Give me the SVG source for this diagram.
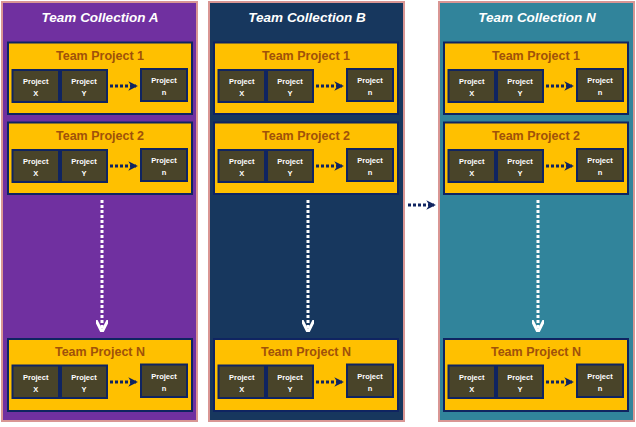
<svg xmlns="http://www.w3.org/2000/svg" width="636" height="427" viewBox="0 0 636 427">
<defs>
<style>
.coll{stroke:#D99694;stroke-width:2}
.tp{fill:#FFC000;stroke:#0F2461;stroke-width:2}
.pr{fill:#494429;stroke:#0F2461;stroke-width:2}
.ct{font-family:"Liberation Sans",Arial,sans-serif;font-weight:bold;font-style:italic;font-size:13.5px;fill:#FFFFFF;text-anchor:middle}
.tt{font-family:"Liberation Sans",Arial,sans-serif;font-weight:bold;font-size:12.5px;fill:#A0520A;text-anchor:middle}
.pt{font-family:"Liberation Sans",Arial,sans-serif;font-weight:bold;font-size:7.5px;fill:#FFFFFF;text-anchor:middle}
.hd{stroke:#0F2461;stroke-width:3;stroke-dasharray:3 2;fill:none}
.vd{stroke:#FFFFFF;stroke-width:3;stroke-dasharray:3 2;fill:none}
</style>
<marker id="ah" viewBox="0 0 10 10" refX="8" refY="5" markerWidth="3.2" markerHeight="3.2" orient="auto" markerUnits="strokeWidth">
<path d="M0,0 L10,5 L0,10 L3,5 z" fill="#0F2461"/>
</marker>
<marker id="aw" viewBox="0 0 10 10" refX="9" refY="5" markerWidth="4" markerHeight="4" orient="auto" markerUnits="strokeWidth">
<path d="M0,0 L10,5 L0,10" fill="none" stroke="#FFFFFF" stroke-width="2.5"/>
</marker>
</defs>
<rect width="636" height="427" fill="#FFFFFF"/>

<g id="collection-a">
<rect class="coll" x="2" y="2" width="195" height="419" fill="#7030A0"/>
<text class="ct" x="100" y="22">Team Collection A</text>
</g>
<g id="collection-b">
<rect class="coll" x="209" y="2" width="195" height="419" fill="#17375E"/>
<text class="ct" x="307" y="22">Team Collection B</text>
</g>
<g id="collection-n">
<rect class="coll" x="439" y="2" width="195" height="419" fill="#31849B"/>
<text class="ct" x="537" y="22">Team Collection N</text>
</g>

<!-- Team projects: collection A -->
<g id="a-tp1" transform="translate(8,42.5)">
<rect class="tp" x="0" y="0" width="184" height="71.5"/>
<text class="tt" x="92" y="17">Team Project 1</text>
<rect class="pr" x="4.5" y="27.5" width="46.5" height="32"/><text class="pt" x="27.75" y="41.5">Project</text><text class="pt" x="27.75" y="53.5">X</text>
<rect class="pr" x="53" y="27.5" width="46" height="32"/><text class="pt" x="76" y="41.5">Project</text><text class="pt" x="76" y="53.5">Y</text>
<rect class="pr" x="133" y="26.5" width="46" height="32"/><text class="pt" x="156" y="40.5">Project</text><text class="pt" x="156" y="52.5">n</text>
</g>
<g id="a-tp2" transform="translate(8,122.5)">
<rect class="tp" x="0" y="0" width="184" height="71.5"/>
<text class="tt" x="92" y="17">Team Project 2</text>
<rect class="pr" x="4.5" y="27.5" width="46.5" height="32"/><text class="pt" x="27.75" y="41.5">Project</text><text class="pt" x="27.75" y="53.5">X</text>
<rect class="pr" x="53" y="27.5" width="46" height="32"/><text class="pt" x="76" y="41.5">Project</text><text class="pt" x="76" y="53.5">Y</text>
<rect class="pr" x="133" y="26.5" width="46" height="32"/><text class="pt" x="156" y="40.5">Project</text><text class="pt" x="156" y="52.5">n</text>
</g>
<g id="a-tpn" transform="translate(8,339)">
<rect class="tp" x="0" y="0" width="184" height="72"/>
<text class="tt" x="92" y="17">Team Project N</text>
<rect class="pr" x="4.5" y="26.5" width="46.5" height="32.5"/><text class="pt" x="27.75" y="40.5">Project</text><text class="pt" x="27.75" y="53">X</text>
<rect class="pr" x="53" y="26.5" width="46" height="32.5"/><text class="pt" x="76" y="40.5">Project</text><text class="pt" x="76" y="53">Y</text>
<rect class="pr" x="133" y="25.5" width="46" height="32.5"/><text class="pt" x="156" y="39.5">Project</text><text class="pt" x="156" y="52">n</text>
</g>

<!-- Team projects: collection B -->
<g id="b-tp1" transform="translate(214,42.5)">
<rect class="tp" x="0" y="0" width="184" height="71.5"/>
<text class="tt" x="92" y="17">Team Project 1</text>
<rect class="pr" x="4.5" y="27.5" width="46.5" height="32"/><text class="pt" x="27.75" y="41.5">Project</text><text class="pt" x="27.75" y="53.5">X</text>
<rect class="pr" x="53" y="27.5" width="46" height="32"/><text class="pt" x="76" y="41.5">Project</text><text class="pt" x="76" y="53.5">Y</text>
<rect class="pr" x="133" y="26.5" width="46" height="32"/><text class="pt" x="156" y="40.5">Project</text><text class="pt" x="156" y="52.5">n</text>
</g>
<g id="b-tp2" transform="translate(214,122.5)">
<rect class="tp" x="0" y="0" width="184" height="71.5"/>
<text class="tt" x="92" y="17">Team Project 2</text>
<rect class="pr" x="4.5" y="27.5" width="46.5" height="32"/><text class="pt" x="27.75" y="41.5">Project</text><text class="pt" x="27.75" y="53.5">X</text>
<rect class="pr" x="53" y="27.5" width="46" height="32"/><text class="pt" x="76" y="41.5">Project</text><text class="pt" x="76" y="53.5">Y</text>
<rect class="pr" x="133" y="26.5" width="46" height="32"/><text class="pt" x="156" y="40.5">Project</text><text class="pt" x="156" y="52.5">n</text>
</g>
<g id="b-tpn" transform="translate(214,339)">
<rect class="tp" x="0" y="0" width="184" height="72"/>
<text class="tt" x="92" y="17">Team Project N</text>
<rect class="pr" x="4.5" y="26.5" width="46.5" height="32.5"/><text class="pt" x="27.75" y="40.5">Project</text><text class="pt" x="27.75" y="53">X</text>
<rect class="pr" x="53" y="26.5" width="46" height="32.5"/><text class="pt" x="76" y="40.5">Project</text><text class="pt" x="76" y="53">Y</text>
<rect class="pr" x="133" y="25.5" width="46" height="32.5"/><text class="pt" x="156" y="39.5">Project</text><text class="pt" x="156" y="52">n</text>
</g>

<!-- Team projects: collection N -->
<g id="n-tp1" transform="translate(444,42.5)">
<rect class="tp" x="0" y="0" width="184" height="71.5"/>
<text class="tt" x="92" y="17">Team Project 1</text>
<rect class="pr" x="4.5" y="27.5" width="46.5" height="32"/><text class="pt" x="27.75" y="41.5">Project</text><text class="pt" x="27.75" y="53.5">X</text>
<rect class="pr" x="53" y="27.5" width="46" height="32"/><text class="pt" x="76" y="41.5">Project</text><text class="pt" x="76" y="53.5">Y</text>
<rect class="pr" x="133" y="26.5" width="46" height="32"/><text class="pt" x="156" y="40.5">Project</text><text class="pt" x="156" y="52.5">n</text>
</g>
<g id="n-tp2" transform="translate(444,122.5)">
<rect class="tp" x="0" y="0" width="184" height="71.5"/>
<text class="tt" x="92" y="17">Team Project 2</text>
<rect class="pr" x="4.5" y="27.5" width="46.5" height="32"/><text class="pt" x="27.75" y="41.5">Project</text><text class="pt" x="27.75" y="53.5">X</text>
<rect class="pr" x="53" y="27.5" width="46" height="32"/><text class="pt" x="76" y="41.5">Project</text><text class="pt" x="76" y="53.5">Y</text>
<rect class="pr" x="133" y="26.5" width="46" height="32"/><text class="pt" x="156" y="40.5">Project</text><text class="pt" x="156" y="52.5">n</text>
</g>
<g id="n-tpn" transform="translate(444,339)">
<rect class="tp" x="0" y="0" width="184" height="72"/>
<text class="tt" x="92" y="17">Team Project N</text>
<rect class="pr" x="4.5" y="26.5" width="46.5" height="32.5"/><text class="pt" x="27.75" y="40.5">Project</text><text class="pt" x="27.75" y="53">X</text>
<rect class="pr" x="53" y="26.5" width="46" height="32.5"/><text class="pt" x="76" y="40.5">Project</text><text class="pt" x="76" y="53">Y</text>
<rect class="pr" x="133" y="25.5" width="46" height="32.5"/><text class="pt" x="156" y="39.5">Project</text><text class="pt" x="156" y="52">n</text>
</g>

<g id="connectors">
<!-- horizontal project arrows -->
<path class="hd" marker-end="url(#ah)" d="M110,86 H136"/>
<path class="hd" marker-end="url(#ah)" d="M110,166 H136"/>
<path class="hd" marker-end="url(#ah)" d="M110,382 H136"/>
<path class="hd" marker-end="url(#ah)" d="M316,86 H342"/>
<path class="hd" marker-end="url(#ah)" d="M316,166 H342"/>
<path class="hd" marker-end="url(#ah)" d="M316,382 H342"/>
<path class="hd" marker-end="url(#ah)" d="M546,86 H572"/>
<path class="hd" marker-end="url(#ah)" d="M546,166 H572"/>
<path class="hd" marker-end="url(#ah)" d="M546,382 H572"/>
<!-- vertical arrows -->
<path class="vd" marker-end="url(#aw)" d="M102,200 V331"/>
<path class="vd" marker-end="url(#aw)" d="M308,200 V331"/>
<path class="vd" marker-end="url(#aw)" d="M538,200 V331"/>
<!-- between collections -->
<path class="hd" marker-end="url(#ah)" d="M408,205 H434"/>
</g>
</svg>
